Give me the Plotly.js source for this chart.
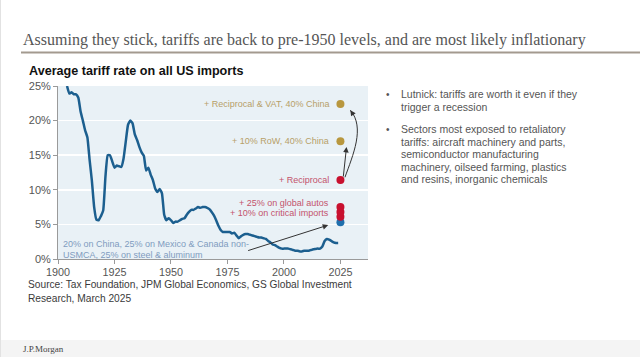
<!DOCTYPE html>
<html>
<head>
<meta charset="utf-8">
<script src="https://cdn.plot.ly/plotly-3.0.1.min.js"></script>
<style>html,body{margin:0;padding:0;background:#fff;}#chart{width:640px;height:357px;}</style>
</head>
<body>
<div id="chart"></div>
<script>
// ---- Data ----
const years = [1904,1905,1906,1907,1908,1909,1910,1911,1912,1913,1914,1915,1916,1917,1918,1919,
  1920,1921,1922,1923,1924,1925,1926,1927,1928,1929,1930,1931,1932,1933,1934,1935,1936,1937,1938,1939,
  1940,1941,1942,1943,1944,1945,1946,1947,1948,1949,1950,1951,1952,1953,1954,1955,1956,1957,1958,1959,
  1960,1961,1962,1963,1964,1965,1966,1967,1968,1969,1970,1971,1972,1973,1974,1975,1976,1977,1978,1979,
  1980,1981,1982,1983,1984,1985,1986,1987,1988,1989,1990,1991,1992,1993,1994,1995,1996,1997,1998,1999,
  2000,2001,2002,2003,2004,2005,2006,2007,2008,2009,2010,2011,2012,2013,2014,2015,2016,2017,2018,2019,
  2020,2021,2022,2023,2024];
const tariffRate = [25.0,23.9,24.1,23.8,23.8,23.3,21.3,20.0,18.6,17.6,14.3,11.3,7.5,5.7,5.6,6.2,
  7.0,11.9,15.0,15.0,14.1,13.2,13.5,13.4,13.3,14.5,17.0,19.4,20.0,19.6,18.0,17.2,16.2,15.4,14.9,12.8,
  13.2,12.2,11.4,10.2,9.7,10.1,9.5,6.4,5.6,5.9,5.6,5.2,5.4,5.4,5.6,5.8,5.9,6.4,6.8,7.1,
  7.1,7.3,7.5,7.4,7.5,7.5,7.4,7.2,6.8,6.3,5.6,4.8,4.2,3.9,3.9,3.9,3.9,3.7,3.8,3.4,
  3.0,3.3,3.5,3.6,3.6,3.5,3.4,3.3,3.2,3.1,3.1,3.0,2.9,2.6,2.4,2.1,2.0,1.8,1.6,1.5,
  1.5,1.5,1.5,1.4,1.3,1.2,1.2,1.1,1.1,1.2,1.2,1.2,1.3,1.4,1.45,1.5,1.5,1.8,2.6,2.9,
  2.8,2.6,2.4,2.3,2.3];

const scenarioYear = 2025;
const scenarioNames = ["current", "critical imports", "global autos", "autos+imports", "reciprocal", "row", "vat"];
const scenarioValues = [5.3, 6.1, 6.8, 7.5, 11.4, 17.0, 22.4];
const scenarioGroup = ["blue", "red", "red", "red", "red", "gold", "gold"];

const xTicks = [1900, 1925, 1950, 1975, 2000, 2025];
const yTicks = [0, 5, 10, 15, 20, 25];
const yTickLabels = ["0%", "5%", "10%", "15%", "20%", "25%"];

const title = "Assuming they stick, tariffs are back to pre-1950 levels, and are most likely inflationary";
const chartTitle = "Average tariff rate on all US imports";
const sourceLines = ["Source: Tax Foundation, JPM Global Economics, GS Global Investment", "Research, March 2025"];
const bullet1 = ["Lutnick: tariffs are worth it even if they", "trigger a recession"];
const bullet2 = ["Sectors most exposed to retaliatory", "tariffs: aircraft machinery and parts,",
  "semiconductor manufacturing", "machinery, oilseed farming, plastics", "and resins, inorganic chemicals"];
const baseNote = ["20% on China, 25% on Mexico & Canada non-", "USMCA, 25% on steel & aluminum"];

// ---- Styling / layout ----
const COL = {blue: "#1f6fad", red: "#c8102e", gold: "#b8973e"};
const LBL = {red: "#c3536c", gold: "#b7a068", blue: "#7f9cc0"};
const FONT = "Liberation Sans, Arial, sans-serif";
const W = 640, H = 357, L = 58, R = 368, T = 86, B = 259;
const px = x => (x - L) / (R - L);
const py = y => (B - y) / (B - T);

const annotations = [];
function txt(text, x, y, opts) {
  annotations.push(Object.assign({xref: "paper", yref: "paper", x: px(x), y: py(y), text: text,
    showarrow: false, xanchor: "left", yanchor: "middle",
    font: {family: FONT, size: 10.5, color: "#444"}}, opts || {}));
}
txt(title, 21, 40, {font: {family: "Liberation Serif, Times New Roman, serif", size: 16, color: "#555"}});
txt("<b>" + chartTitle + "</b>", 27, 71, {font: {family: FONT, size: 12.6, color: "#111"}});
sourceLines.forEach((s, i) => txt(s, 26, 284.5 + i * 13.5, {font: {family: FONT, size: 10.2, color: "#3a3a3a"}}));
txt("•", 384, 94, {font: {family: FONT, size: 10, color: "#555"}});
bullet1.forEach((s, i) => txt(s, 399, 94 + i * 12.6, {font: {family: FONT, size: 10.5, color: "#555"}}));
txt("•", 384, 129, {font: {family: FONT, size: 10, color: "#555"}});
bullet2.forEach((s, i) => txt(s, 399, 129 + i * 12.5, {font: {family: FONT, size: 10.5, color: "#555"}}));
baseNote.forEach((s, i) => txt(s, 61, 243.5 + i * 11, {font: {family: FONT, size: 9.0, color: LBL.blue}}));
txt("J.P.Morgan", 21, 349, {font: {family: "Liberation Serif, Times New Roman, serif", size: 9, color: "#444"}});

// scenario labels next to the 2025 dots
function lab(text, yval, color, yshift) {
  annotations.push({xref: "x", yref: "y", x: scenarioYear, y: yval, text: text, showarrow: false,
    xanchor: "right", yanchor: "middle", xshift: -9, yshift: yshift || 0,
    font: {family: FONT, size: 9.0, color: color}});
}
lab("+ Reciprocal &amp; VAT, 40% China", scenarioValues[6], LBL.gold);
lab("+ 10% RoW, 40% China", scenarioValues[5], LBL.gold);
lab("+ Reciprocal", scenarioValues[4], LBL.red);
lab("+ 25% on global autos", scenarioValues[3], LBL.red, 4);
lab("+ 10% on critical imports", scenarioValues[3], LBL.red, -6);

// arrows
const arrowCol = "#333";
annotations.push({xref: "x", yref: "y", axref: "x", ayref: "y", x: 2019.6, y: 4.9, ax: 1983.5, ay: 1.15,
  text: "", showarrow: true, arrowhead: 2, arrowsize: 1.1, arrowwidth: 1, arrowcolor: arrowCol});
annotations.push({xref: "x", yref: "y", axref: "x", ayref: "y", x: 2027.7, y: scenarioValues[5] - 0.8,
  ax: scenarioYear + 1.2, ay: scenarioValues[4] + 0.3,
  text: "", showarrow: true, arrowhead: 2, arrowsize: 1.1, arrowwidth: 1, arrowcolor: arrowCol});
const vEnd = scenarioValues[6] - 0.9, vStart = scenarioValues[4] + 0.4;
annotations.push({xref: "x", yref: "y", axref: "x", ayref: "y", x: 2029.4, y: vEnd,
  ax: 2030.6, ay: vEnd - 0.6,
  text: "", showarrow: true, arrowhead: 2, arrowsize: 1.1, arrowwidth: 1, arrowcolor: arrowCol});

const shapes = [
  {type: "line", xref: "paper", yref: "paper", x0: px(21), x1: px(640), y0: py(52.5), y1: py(52.5),
   line: {color: "#a39a8f", width: 2}},
  {type: "rect", xref: "paper", yref: "paper", x0: px(0), x1: px(640), y0: py(340), y1: py(357),
   fillcolor: "#f4f4f4", line: {width: 0}, layer: "below"},
  {type: "line", xref: "paper", yref: "paper", x0: px(0.5), x1: px(0.5), y0: py(0), y1: py(357),
   line: {color: "#e2e2e2", width: 1}},
  {type: "path", xref: "x", yref: "y",
   path: `M${scenarioYear + 2},${vStart} C2030.5,15 2036,19 2029.4,${vEnd}`,
   line: {color: arrowCol, width: 1}}
];

const traces = [
  {x: years, y: tariffRate, type: "scatter", mode: "lines",
   line: {color: "#1c5f8f", width: 2.5, shape: "spline", smoothing: 0.4}, hoverinfo: "skip"},
  {x: scenarioValues.map(() => scenarioYear), y: scenarioValues, type: "scatter", mode: "markers",
   marker: {size: 8, color: scenarioGroup.map(g => COL[g])}, text: scenarioNames, hoverinfo: "text"}
];

const layout = {
  width: W, height: H, showlegend: false,
  margin: {l: L, r: W - R, t: T, b: H - B, pad: 0},
  paper_bgcolor: "#fff", plot_bgcolor: "#e9f1f6",
  xaxis: {range: [1900, 2037.2], tickvals: xTicks, ticktext: xTicks.map(String),
    showgrid: false, zeroline: false, showline: true, linecolor: "#9a9a9a", linewidth: 1,
    ticks: "outside", ticklen: 4, tickcolor: "#9a9a9a", ticklabelstandoff: -1,
    tickfont: {family: FONT, size: 10.8, color: "#555"}},
  yaxis: {range: [0, 25], tickvals: yTicks, ticktext: yTickLabels,
    showgrid: true, gridcolor: "#ffffff", gridwidth: 1.5, zeroline: false,
    showline: true, linecolor: "#9a9a9a", linewidth: 1,
    ticks: "outside", ticklen: 4, tickcolor: "#9a9a9a",
    tickfont: {family: FONT, size: 11, color: "#555"}},
  annotations: annotations, shapes: shapes
};

Plotly.newPlot("chart", traces, layout, {staticPlot: true, displayModeBar: false});
</script>
</body>
</html>
